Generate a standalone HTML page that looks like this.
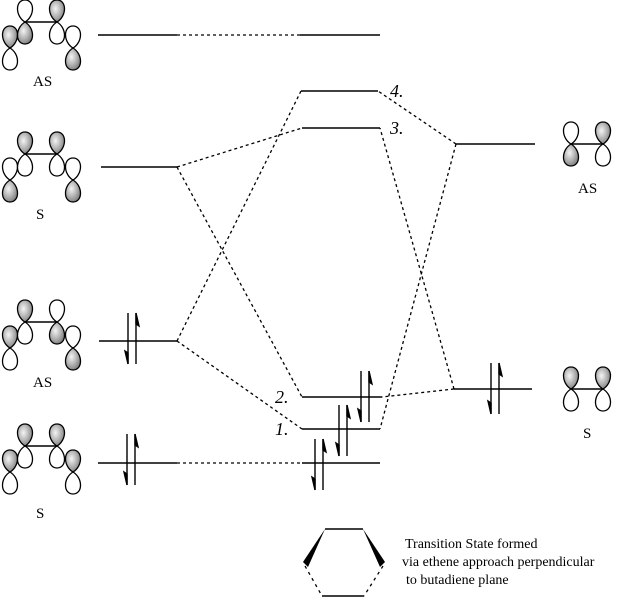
<!DOCTYPE html>
<html><head><meta charset="utf-8"><style>
html,body{margin:0;padding:0;background:#fff;width:618px;height:600px;overflow:hidden}
svg{display:block}
text{font-family:"Liberation Serif",serif;fill:#000}
</style></head><body>
<svg width="618" height="600" viewBox="0 0 618 600" xmlns="http://www.w3.org/2000/svg">
<defs>
<radialGradient id="g" cx="0.4" cy="0.4" r="0.7"><stop offset="0" stop-color="#f4f4f4"/><stop offset="0.6" stop-color="#a8a8a8"/><stop offset="1" stop-color="#707070"/></radialGradient>
<path id="lu" d="M0,0 C-10,-6 -10,-22 0,-22 C10,-22 10,-6 0,0Z"/>
<path id="ld" d="M0,0 C-10,6 -10,22 0,22 C10,22 10,6 0,0Z"/>
<g id="pu"><use href="#lu" fill="url(#g)" stroke="#000" stroke-width="1.3"/><use href="#ld" fill="#fff" stroke="#000" stroke-width="1.3"/></g>
<g id="pd"><use href="#lu" fill="#fff" stroke="#000" stroke-width="1.3"/><use href="#ld" fill="url(#g)" stroke="#000" stroke-width="1.3"/></g>
<g id="ep" stroke="#000" stroke-width="1.4" fill="#000">
<line x1="0" y1="0" x2="0" y2="51"/><path d="M0,51 L-3,38 L0,40Z"/>
<line x1="8" y1="0" x2="8" y2="51"/><path d="M8,0 L11,13 L8,11Z"/>
</g>
</defs>

<g>
<line x1="25" y1="22" x2="57" y2="22" stroke="#000" stroke-width="1.5"/>
<use href="#pu" x="10" y="48"/><use href="#pd" x="25" y="22"/><use href="#pu" x="57" y="22"/><use href="#pd" x="73" y="48"/>
</g>
<g>
<line x1="25" y1="154" x2="57" y2="154" stroke="#000" stroke-width="1.5"/>
<use href="#pd" x="10" y="180"/><use href="#pu" x="25" y="154"/><use href="#pu" x="57" y="154"/><use href="#pd" x="73" y="180"/>
</g>
<g>
<line x1="25" y1="322" x2="57" y2="322" stroke="#000" stroke-width="1.5"/>
<use href="#pu" x="10" y="348"/><use href="#pu" x="25" y="322"/><use href="#pd" x="57" y="322"/><use href="#pd" x="73" y="348"/>
</g>
<g>
<line x1="25" y1="446" x2="57" y2="446" stroke="#000" stroke-width="1.5"/>
<use href="#pu" x="10" y="472"/><use href="#pu" x="25" y="446"/><use href="#pu" x="57" y="446"/><use href="#pu" x="73" y="472"/>
</g>
<line x1="571" y1="144" x2="603" y2="144" stroke="#000" stroke-width="1.5"/>
<use href="#pd" x="571" y="144"/><use href="#pu" x="603" y="144"/>
<line x1="571" y1="389" x2="603" y2="389" stroke="#000" stroke-width="1.5"/>
<use href="#pu" x="571" y="389"/><use href="#pu" x="603" y="389"/>

<g font-size="15">
<text x="33" y="86">AS</text>
<text x="36" y="219">S</text>
<text x="33" y="387">AS</text>
<text x="36" y="518">S</text>
<text x="578" y="193">AS</text>
<text x="583" y="438">S</text>
</g>

<g stroke="#000" stroke-width="1.6">
<line x1="98" y1="35" x2="177" y2="35"/>
<line x1="101" y1="167" x2="177" y2="167"/>
<line x1="99" y1="341" x2="177" y2="341"/>
<line x1="98" y1="463" x2="177" y2="463"/>
<line x1="300" y1="35" x2="380" y2="35"/>
<line x1="301" y1="91" x2="378" y2="91"/>
<line x1="302" y1="128" x2="380" y2="128"/>
<line x1="302" y1="397" x2="382" y2="397"/>
<line x1="302" y1="429" x2="380" y2="429"/>
<line x1="302" y1="463" x2="380" y2="463"/>
<line x1="456" y1="144" x2="535" y2="144"/>
<line x1="454" y1="389" x2="532" y2="389"/>
</g>
<g stroke="#000" stroke-width="1.3" stroke-dasharray="3,3" fill="none">
<line x1="177" y1="35" x2="300" y2="35"/>
<line x1="177" y1="463" x2="302" y2="463"/>
<line x1="177" y1="167" x2="302" y2="128"/>
<line x1="177" y1="167" x2="302" y2="397"/>
<line x1="177" y1="341" x2="301" y2="91"/>
<line x1="177" y1="341" x2="302" y2="429"/>
<line x1="456" y1="144" x2="378" y2="91"/>
<line x1="456" y1="144" x2="380" y2="429"/>
<line x1="454" y1="389" x2="380" y2="128"/>
<line x1="454" y1="389" x2="382" y2="397"/>
</g>

<g font-size="18" font-style="italic">
<text x="390" y="97">4.</text>
<text x="390" y="134">3.</text>
<text x="275" y="403">2.</text>
<text x="275" y="435">1.</text>
</g>

<use href="#ep" x="128" y="313"/>
<use href="#ep" x="127" y="434"/>
<use href="#ep" x="315" y="439"/>
<use href="#ep" x="339" y="405"/>
<use href="#ep" x="361" y="371"/>
<use href="#ep" x="491" y="363"/>

<line x1="325" y1="529" x2="363" y2="529" stroke="#000" stroke-width="1.5"/>
<path d="M325,529 L303,562 L308,567Z" fill="#000"/>
<path d="M363,529 L385,562 L380,567Z" fill="#000"/>
<g stroke="#000" stroke-width="1.3" stroke-dasharray="3,4">
<line x1="305" y1="566" x2="322" y2="596"/>
<line x1="383" y1="566" x2="364" y2="596"/>
</g>
<line x1="322" y1="596" x2="364" y2="596" stroke="#000" stroke-width="1.5"/>
<g font-size="14">
<text x="405" y="548">Transition State formed</text>
<text x="402" y="566">via ethene approach perpendicular</text>
<text x="406" y="584">to butadiene plane</text>
</g>
</svg>
</body></html>
